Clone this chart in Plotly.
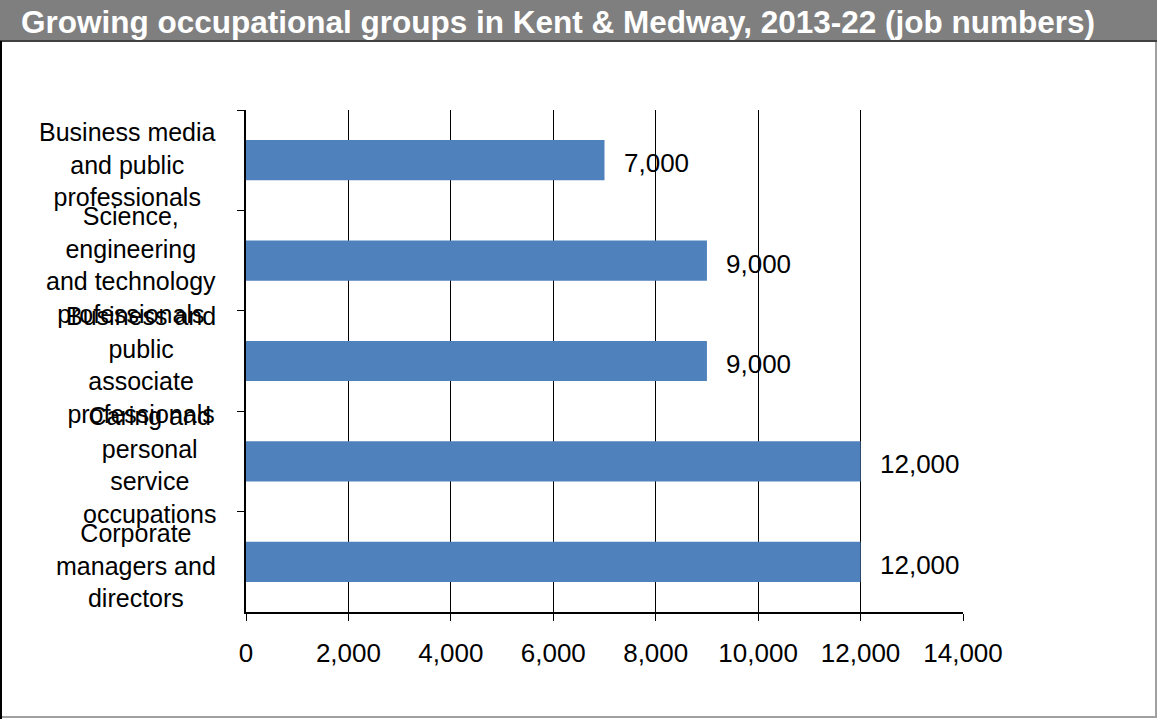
import plotly.graph_objects as go

categories = [
    "Business media<br>and public<br>professionals",
    "Science,<br>engineering<br>and technology<br>professionals",
    "Business and<br>public<br>associate<br>professionals",
    "Caring and<br>personal<br>service<br>occupations",
    "Corporate<br>managers and<br>directors",
]
job_numbers = [7000, 9000, 9000, 12000, 12000]
x_ticks = [0, 2000, 4000, 6000, 8000, 10000, 12000, 14000]
title_text = "Growing occupational groups in Kent &amp; Medway, 2013-22 (job numbers)"

W, H = 1157, 719
L, R, T, B = 246, 194, 110, 107
PW, PH = W - L - R, H - T - B

def px(xp):
    return (xp - L) / PW

def py(yp):
    return (H - B - yp) / PH

FONT = "Arial, Liberation Sans, sans-serif"
BAR = "#4f81bd"

fig = go.Figure()
fig.add_trace(go.Bar(
    x=job_numbers, y=categories, orientation="h",
    marker=dict(color=BAR, line=dict(width=0)),
    width=0.4, hoverinfo="skip",
))

annotations = []
for c, v in zip(categories, job_numbers):
    annotations.append(dict(
        x=v, y=c, xref="x", yref="y", text=f"{v:,}", showarrow=False,
        xanchor="left", yanchor="middle", xshift=17, yshift=-3,
        font=dict(family=FONT, size=26, color="black"),
    ))
    annotations.append(dict(
        x=0, y=c, xref="paper", yref="y", text=c, showarrow=False,
        xanchor="right", yanchor="middle", xshift=-28, yshift=-4, align="center",
        font=dict(family=FONT, size=25, color="black"),
    ))
annotations.append(dict(
    x=px(19), y=py(22), xref="paper", yref="paper", text="<b>" + title_text + "</b>",
    showarrow=False, xanchor="left", yanchor="middle",
    font=dict(family=FONT, size=31.5, color="white"),
))

shapes = [
    dict(type="rect", xref="paper", yref="paper", x0=px(0), x1=px(W - 1), y0=py(H - 2), y1=py(0),
         line=dict(color="#a0a0a0", width=2), fillcolor="rgba(0,0,0,0)", layer="below"),
    dict(type="rect", xref="paper", yref="paper", x0=px(0), x1=px(W), y0=py(41), y1=py(0),
         line=dict(width=0), fillcolor="#7f7f7f", layer="below"),
    dict(type="line", xref="paper", yref="paper", x0=px(0), x1=px(W), y0=py(41), y1=py(41),
         line=dict(color="#404040", width=2)),
    dict(type="line", xref="paper", yref="paper", x0=px(1), x1=px(1), y0=py(41), y1=py(H),
         line=dict(color="black", width=2)),
]

fig.update_layout(
    width=W, height=H,
    margin=dict(l=L, r=R, t=T, b=B, pad=0),
    paper_bgcolor="white", plot_bgcolor="white",
    showlegend=False, bargap=0.6,
    annotations=annotations, shapes=shapes,
    xaxis=dict(
        range=[0, 14000], tickvals=x_ticks, tickformat=",",
        showgrid=True, gridcolor="black", gridwidth=1.3,
        showline=True, linecolor="black", linewidth=1.5,
        ticks="outside", ticklen=7, tickcolor="black", tickwidth=1.3,
        ticklabelstandoff=10,
        tickfont=dict(family=FONT, size=26, color="black"),
        zeroline=False, fixedrange=True,
    ),
    yaxis=dict(
        type="category", categoryorder="array", categoryarray=categories,
        range=[4.5, -0.5], tickson="boundaries",
        ticks="outside", ticklen=7, tickcolor="black", tickwidth=1.3,
        showticklabels=False, showgrid=False, zeroline=False,
        showline=True, linecolor="black", linewidth=1.5, fixedrange=True,
    ),
)

fig.write_html("out.html")
